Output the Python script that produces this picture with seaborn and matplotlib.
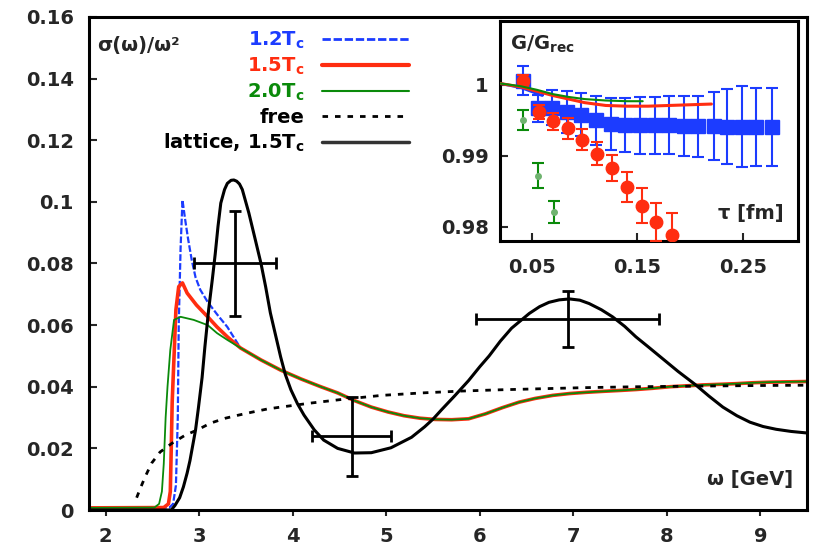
import matplotlib
matplotlib.use("Agg")
import numpy as np
import matplotlib.pyplot as plt
from matplotlib.lines import Line2D
import seaborn as sns

# Style
sns.set_style("ticks")
plt.rcParams['font.family'] = ['DejaVu Sans']
plt.rcParams['font.weight'] = 'bold'
plt.rcParams['mathtext.fontset'] = 'dejavusans'
plt.rcParams['mathtext.default'] = 'bf'

blue = '#1c3cff'
red = '#ff2d10'
green = '#0a8a0a'

# Main panel data: spectral functions sigma(w)/w^2
# common tail of the three temperatures (curves coincide above ~3.4 GeV)
omega_tail = [3.44, 3.66, 3.87, 4.09, 4.30, 4.48, 4.66, 4.84, 5.02, 5.19, 5.36, 5.52,
              5.70, 5.88, 6.06, 6.24, 6.42, 6.59, 6.78, 6.96, 7.14, 7.31, 7.50, 7.67,
              7.85, 8.03, 8.21, 8.39, 8.57, 8.74, 8.92, 9.11, 9.30, 9.50]
rho_tail = [0.0526, 0.0487, 0.0454, 0.0425, 0.0400, 0.0380, 0.0355, 0.0334, 0.0318, 0.0306,
            0.0298, 0.0294, 0.0293, 0.0296, 0.0312, 0.0332, 0.0350, 0.0362, 0.0372, 0.0378,
            0.0382, 0.0385, 0.0388, 0.0391, 0.0395, 0.0400, 0.0403, 0.0406, 0.0408, 0.0410,
            0.0413, 0.0415, 0.0416, 0.0417]

omega_12 = [1.82, 2.68, 2.72, 2.75, 2.77, 2.78, 2.80, 2.82, 2.85, 2.88, 2.92, 2.96,
            3.01, 3.09, 3.19, 3.30]
rho_12 = [0.0007, 0.0008, 0.002, 0.008, 0.030, 0.060, 0.085, 0.1006, 0.094, 0.088,
          0.081, 0.0755, 0.0715, 0.0675, 0.0635, 0.0594]

omega_15 = [1.82, 2.62, 2.67, 2.69, 2.70, 2.71, 2.73, 2.75, 2.78, 2.82, 2.87, 2.97,
            3.09, 3.19, 3.30]
rho_15 = [0.0007, 0.0008, 0.002, 0.006, 0.020, 0.035, 0.050, 0.065, 0.0725, 0.0737,
          0.0704, 0.0665, 0.0627, 0.0594, 0.0562]

omega_20 = [1.82, 2.52, 2.57, 2.60, 2.62, 2.64, 2.66, 2.69, 2.73, 2.80, 2.94, 3.09,
            3.19, 3.30]
rho_20 = [0.0007, 0.0008, 0.002, 0.006, 0.015, 0.030, 0.040, 0.052, 0.0617, 0.0627,
          0.0617, 0.0600, 0.0574, 0.0552]

omega_free = [2.33, 2.37, 2.42, 2.49, 2.58, 2.71, 2.85, 2.98, 3.12, 3.28, 3.42, 3.57,
              3.73, 3.87, 4.19, 4.50, 4.95, 5.38, 5.80, 6.20, 6.59, 7.10, 7.67, 8.30,
              9.00, 9.50]
rho_free = [0.004, 0.0071, 0.0107, 0.0152, 0.0188, 0.0217, 0.0243, 0.0260, 0.0282, 0.0298,
            0.0308, 0.0318, 0.0328, 0.0334, 0.0347, 0.0358, 0.0372, 0.0380, 0.0386, 0.0390,
            0.0393, 0.0397, 0.0400, 0.0402, 0.0404, 0.0405]

omega_lat = [1.82, 2.70, 2.74, 2.79, 2.83, 2.87, 2.90, 2.93, 2.96, 2.99, 3.03, 3.06,
             3.10, 3.14, 3.17, 3.20, 3.23, 3.27, 3.30, 3.34, 3.37, 3.40, 3.43, 3.46,
             3.53, 3.60, 3.66, 3.71, 3.76, 3.82, 3.87, 3.92, 3.98, 4.05, 4.12, 4.23,
             4.33, 4.48, 4.66, 4.84, 5.05, 5.27, 5.41, 5.50, 5.59, 5.73, 5.88, 6.00,
             6.10, 6.22, 6.34, 6.53, 6.64, 6.74, 6.85, 6.96, 7.07, 7.17, 7.30, 7.42,
             7.55, 7.67, 7.80, 7.96, 8.12, 8.31, 8.45, 8.60, 8.75, 8.89, 9.03, 9.17,
             9.33, 9.50]
rho_lat = [0.0, 0.0, 0.0015, 0.004, 0.0075, 0.012, 0.016, 0.021, 0.026, 0.033, 0.043, 0.053,
           0.065, 0.075, 0.083, 0.092, 0.0996, 0.1040, 0.1060, 0.1070, 0.1071, 0.1067, 0.1058,
           0.104, 0.0964, 0.0876, 0.080, 0.0724, 0.064, 0.0562, 0.0497, 0.044, 0.039, 0.0345,
           0.0308, 0.026, 0.0227, 0.020, 0.0185, 0.0186, 0.0202, 0.0236, 0.027, 0.0295,
           0.0325, 0.037, 0.042, 0.0465, 0.050, 0.0548, 0.059, 0.0638, 0.0660, 0.0674,
           0.0682, 0.0685, 0.0681, 0.0670, 0.0650, 0.0627, 0.0596, 0.0562, 0.0530, 0.049,
           0.0450, 0.0406, 0.0370, 0.0334, 0.0306, 0.0285, 0.0271, 0.0262, 0.0255, 0.025]

# lattice error bars (centre, x half-width, y half-width)
err_omega = [3.38, 4.63, 6.94]
err_rho = [0.080, 0.024, 0.062]
err_domega = [0.44, 0.42, 0.98]
err_drho = [0.017, 0.0128, 0.009]

# Inset data: G/G_rec vs tau
tau_12 = [0.042, 0.056, 0.069, 0.083, 0.097, 0.111, 0.125, 0.138, 0.152, 0.167,
          0.180, 0.194, 0.207, 0.222, 0.235, 0.249, 0.262, 0.277]
g_12 = [1.0006, 0.9967, 0.9968, 0.9962, 0.9958, 0.9950, 0.9945, 0.9944, 0.9943, 0.9943,
        0.9943, 0.9942, 0.9942, 0.9942, 0.9941, 0.9941, 0.9941, 0.9941]
dg_12 = [0.0020, 0.0019, 0.0025, 0.0030, 0.0030, 0.0035, 0.0037, 0.0038, 0.0040, 0.0040,
         0.0041, 0.0042, 0.0043, 0.0048, 0.0053, 0.0057, 0.0055, 0.0055]

tau_15 = [0.042, 0.057, 0.070, 0.084, 0.098, 0.112, 0.126, 0.140, 0.154, 0.168, 0.183]
g_15 = [1.0006, 0.9962, 0.9949, 0.9939, 0.9923, 0.9903, 0.9883, 0.9856, 0.9830, 0.9807, 0.9789]
dg_15 = [0.0008, 0.0010, 0.0012, 0.0015, 0.0015, 0.0016, 0.0018, 0.0021, 0.0025, 0.0027, 0.0030]

tau_20 = [0.042, 0.056, 0.071]
g_20 = [0.9951, 0.9872, 0.9821]
dg_20 = [0.0014, 0.0018, 0.0016]

tau_line_12 = [0.02, 0.04, 0.06]
g_line_12 = [1.0002, 0.9996, 0.9985]
tau_line_15 = [0.02, 0.04, 0.055, 0.07, 0.085, 0.10, 0.12, 0.14, 0.16, 0.18, 0.20, 0.22]
g_line_15 = [1.0002, 0.9997, 0.9991, 0.9985, 0.9980, 0.9975, 0.9971, 0.9970, 0.9970,
             0.9971, 0.9972, 0.9973]
tau_line_20 = [0.02, 0.04, 0.055, 0.07, 0.085, 0.10, 0.12, 0.14, 0.155]
g_line_20 = [1.0002, 0.9998, 0.9993, 0.9987, 0.9983, 0.9980, 0.9978, 0.9977, 0.9977]

# Figure
fig = plt.figure(figsize=(8.14, 5.46), dpi=100)
ax = fig.add_axes([0.1093, 0.0659, 0.8821, 0.9030])

sns.lineplot(x=omega_12 + omega_tail, y=rho_12 + rho_tail, ax=ax, color=blue, lw=1.6,
             linestyle=(0, (3, 1)), sort=False, estimator=None)
sns.lineplot(x=omega_15 + omega_tail, y=rho_15 + rho_tail, ax=ax, color=red, lw=2.6,
             sort=False, estimator=None)
sns.lineplot(x=omega_20 + omega_tail, y=rho_20 + rho_tail, ax=ax, color=green, lw=1.3,
             sort=False, estimator=None)
sns.lineplot(x=omega_free, y=rho_free, ax=ax, color='black', lw=2.0,
             linestyle=(0, (2, 2.5)), sort=False, estimator=None)
sns.lineplot(x=omega_lat, y=rho_lat, ax=ax, color='black', lw=2.2,
             sort=False, estimator=None)
ax.errorbar(err_omega, err_rho, xerr=err_domega, yerr=err_drho, fmt='none',
            ecolor='black', elinewidth=2, capsize=4, capthick=2, zorder=5)

ax.set_xlim(1.82, 9.5)
ax.set_ylim(0, 0.16)
ax.set_xticks([2, 3, 4, 5, 6, 7, 8, 9])
ax.set_xticklabels(['2', '3', '4', '5', '6', '7', '8', '9'])
ax.set_yticks([0, 0.02, 0.04, 0.06, 0.08, 0.1, 0.12, 0.14, 0.16])
ax.set_yticklabels(['0', '0.02', '0.04', '0.06', '0.08', '0.1', '0.12', '0.14', '0.16'])
ax.tick_params(axis='y', direction='in', length=6, width=1.5, pad=11, labelsize=14)
ax.tick_params(axis='x', direction='out', length=4, width=1.5, pad=8, labelsize=14)
for s in ax.spines.values():
    s.set_linewidth(2.2)
    s.set_color('black')
ax.set_xlabel('')
ax.set_ylabel('')

ax.text(0.011, 0.943, 'σ(ω)/ω²', transform=ax.transAxes, fontsize=14,
        ha='left', va='center')
ax.text(0.98, 0.061, 'ω [GeV]', transform=ax.transAxes, fontsize=14,
        ha='right', va='center')

handles = [Line2D([], [], color=blue, lw=2, linestyle=(0, (3, 1))),
           Line2D([], [], color=red, lw=3),
           Line2D([], [], color=green, lw=1.5),
           Line2D([], [], color='black', lw=2, linestyle=(0, (2, 2.5))),
           Line2D([], [], color='#333333', lw=2.5)]
labels = ['1.2T$_c$', '1.5T$_c$', '2.0T$_c$', 'free', 'lattice, 1.5T$_c$']
ax.legend(handles, labels, loc='upper right', bbox_to_anchor=(0.446, 0.975),
          frameon=False, markerfirst=False, handlelength=4.5, handletextpad=0.9,
          labelspacing=0.25, borderpad=0, borderaxespad=0, fontsize=14,
          labelcolor=[blue, red, green, 'black', 'black'])

# Inset
ax_in = fig.add_axes([0.6143, 0.5586, 0.3661, 0.4029])
ax_in.set_facecolor('white')
ax_in.errorbar(tau_12, g_12, yerr=dg_12, fmt='s', color=blue, ms=10, mec=blue,
               elinewidth=1.5, capsize=4, capthick=1.5, zorder=2)
ax_in.errorbar(tau_15, g_15, yerr=dg_15, fmt='o', color=red, ms=9, mec=red,
               elinewidth=1.5, capsize=4, capthick=1.5, zorder=3)
ax_in.errorbar(tau_20, g_20, yerr=dg_20, fmt='o', color='#6fb36f', ms=4, mec='#6fb36f',
               ecolor=green, elinewidth=1.5, capsize=4, capthick=1.5, zorder=3)
sns.lineplot(x=tau_line_12, y=g_line_12, ax=ax_in, color=blue, lw=2, sort=False,
             estimator=None, zorder=4)
sns.lineplot(x=tau_line_15, y=g_line_15, ax=ax_in, color=red, lw=2.2, sort=False,
             estimator=None, zorder=4)
sns.lineplot(x=tau_line_20, y=g_line_20, ax=ax_in, color=green, lw=1.5, sort=False,
             estimator=None, zorder=4)

ax_in.set_xlim(0.02, 0.302)
ax_in.set_ylim(0.978, 1.009)
ax_in.set_xticks([0.05, 0.15, 0.25])
ax_in.set_xticklabels(['0.05', '0.15', '0.25'])
ax_in.set_yticks([0.98, 0.99, 1.0])
ax_in.set_yticklabels(['0.98', '0.99', '1'])
ax_in.tick_params(axis='both', direction='in', length=6, width=1.5, labelsize=14)
ax_in.tick_params(axis='x', pad=12)
ax_in.tick_params(axis='y', pad=8)
for s in ax_in.spines.values():
    s.set_linewidth(2.2)
    s.set_color('black')
ax_in.set_xlabel('')
ax_in.set_ylabel('')
ax_in.text(0.034, 0.895, 'G/G$_{rec}$', transform=ax_in.transAxes, fontsize=14,
           ha='left', va='center')
ax_in.text(0.95, 0.123, 'τ [fm]', transform=ax_in.transAxes, fontsize=14,
           ha='right', va='center')

fig.savefig('out.png', dpi=100)
